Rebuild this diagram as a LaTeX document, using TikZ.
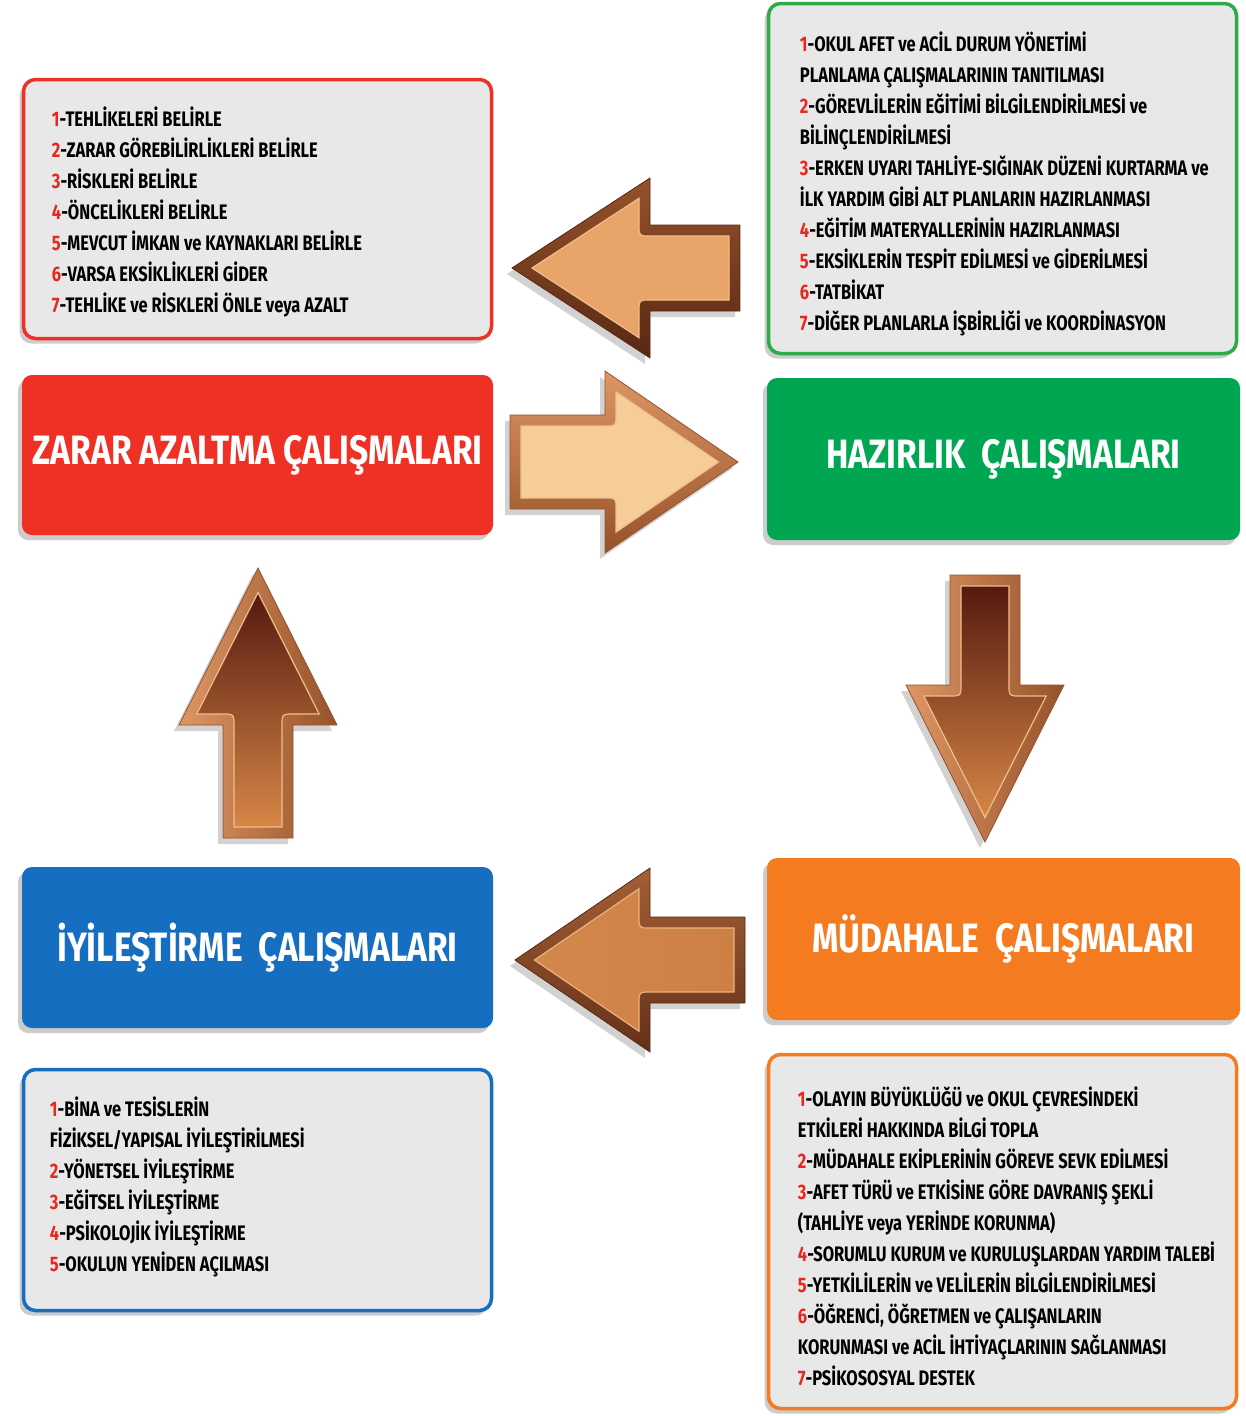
\documentclass[tikz,border=0pt]{standalone}
\usepackage{fontspec}
\setmainfont{Fira Sans}[FakeStretch=0.785]
\newfontfamily\titlefont{Fira Sans}[FakeStretch=0.82]
\usetikzlibrary{shadows,calc}
\definecolor{zred}{RGB}{238,49,36}
\definecolor{zgreen}{RGB}{0,166,81}
\definecolor{zblue}{RGB}{22,110,192}
\definecolor{zorange}{RGB}{244,123,32}
\definecolor{bgreen}{RGB}{46,170,74}
\definecolor{boxgray}{RGB}{232,232,232}
\definecolor{numred}{RGB}{230,40,30}
\definecolor{brD}{RGB}{88,40,20}
\definecolor{brM}{RGB}{150,82,42}
\definecolor{brL}{RGB}{222,150,100}
\definecolor{brHL}{RGB}{240,190,140}
\definecolor{tanA}{RGB}{232,164,105}
\definecolor{tanB}{RGB}{246,204,152}
\definecolor{choc}{RGB}{85,25,15}
\definecolor{ambr}{RGB}{215,135,70}
\definecolor{cop}{RGB}{205,128,68}
\newcommand\nr[1]{\textcolor{numred}{#1}}
% L H S E tipIn Hin outerstyle innerstyle
\newcommand\bronzearrow[8]{%
  \path[#7] (0,0) -- (#1,#2) -- (#1,#3) -- (#4,#3) -- (#4,-#3) -- (#1,-#3) -- (#1,-#2) -- cycle;
  \path[#8] (#5,0) -- (#1-11,#6) -- (#1-11,#3) .. controls (#1-11,#3-11) .. (#1,#3-11)
     -- (#4-11,#3-11) -- (#4-11,-#3+11) -- (#1,-#3+11) .. controls (#1-11,-#3+11) .. (#1-11,-#3)
     -- (#1-11,-#6) -- cycle;
}
\tikzset{
  shadowed/.style={drop shadow={shadow xshift=-4pt, shadow yshift=-5pt, opacity=.4}},
  titlebox/.style={rounded corners=10pt, minimum width=471pt, minimum height=160pt,
    text=white, font=\titlefont\fontsize{41}{44}\selectfont\bfseries, inner sep=0pt, shadowed},
  listbox/.style={rounded corners=12pt, line width=3.5pt, fill=boxgray,
    minimum width=468pt, inner sep=0pt, shadowed},
  listtext/.style={align=left, inner sep=0pt, anchor=west, text=black,
    font=\fontsize{21}{31}\selectfont\bfseries},
  arrowshadow/.style={drop shadow={shadow xshift=-5pt, shadow yshift=-6pt, opacity=.35}},
}
\begin{document}
\begin{tikzpicture}[x=1pt,y=-1pt]
\useasboundingbox (0,0) rectangle (1245,1416);
\fill[white] (0,0) rectangle (1245,1416);

% list boxes
\node[listbox, draw=zred, minimum height=259pt] (rl) at (257.5,209) {};
\node[listtext] (rlt) at ($(rl.west)+(30,3)$) {%
\nr{1}-TEHLİKELERİ BELİRLE\\
\nr{2}-ZARAR GÖREBİLİRLİKLERİ BELİRLE\\
\nr{3}-RİSKLERİ BELİRLE\\
\nr{4}-ÖNCELİKLERİ BELİRLE\\
\nr{5}-MEVCUT İMKAN ve KAYNAKLARI BELİRLE\\
\nr{6}-VARSA EKSİKLİKLERİ GİDER\\
\nr{7}-TEHLİKE ve RİSKLERİ ÖNLE veya AZALT};

\node[listbox, draw=bgreen, minimum height=350pt] (gl) at (1002.5,178.5) {};
\node[listtext] (glt) at ($(gl.west)+(33,5)$) {%
\nr{1}-OKUL AFET ve ACİL DURUM YÖNETİMİ\\
PLANLAMA ÇALIŞMALARININ TANITILMASI\\
\nr{2}-GÖREVLİLERİN EĞİTİMİ BİLGİLENDİRİLMESİ ve\\
BİLİNÇLENDİRİLMESİ\\
\nr{3}-ERKEN UYARI TAHLİYE-SIĞINAK DÜZENİ KURTARMA ve\\
İLK YARDIM GİBİ ALT PLANLARIN HAZIRLANMASI\\
\nr{4}-EĞİTİM MATERYALLERİNİN HAZIRLANMASI\\
\nr{5}-EKSİKLERİN TESPİT EDİLMESİ ve GİDERİLMESİ\\
\nr{6}-TATBİKAT\\
\nr{7}-DİĞER PLANLARLA İŞBİRLİĞİ ve  KOORDİNASYON};

\node[listbox, draw=zorange, minimum height=354pt] (ol) at (1002.5,1231.5) {};
\node[listtext] (olt) at ($(ol.west)+(31,5)$) {%
\nr{1}-OLAYIN BÜYÜKLÜĞÜ ve OKUL ÇEVRESİNDEKİ\\
ETKİLERİ HAKKINDA BİLGİ TOPLA\\
\nr{2}-MÜDAHALE EKİPLERİNİN GÖREVE SEVK EDİLMESİ\\
\nr{3}-AFET TÜRÜ ve ETKİSİNE GÖRE DAVRANIŞ ŞEKLİ\\
(TAHLİYE veya YERİNDE KORUNMA)\\
\nr{4}-SORUMLU KURUM ve KURULUŞLARDAN YARDIM TALEBİ\\
\nr{5}-YETKİLİLERİN ve VELİLERİN BİLGİLENDİRİLMESİ\\
\nr{6}-ÖĞRENCİ, ÖĞRETMEN ve ÇALIŞANLARIN\\
KORUNMASI ve ACİL İHTİYAÇLARININ SAĞLANMASI\\
\nr{7}-PSİKOSOSYAL DESTEK};

\node[listbox, draw=zblue, minimum height=241pt] (bl) at (257.5,1190) {};
\node[listtext] (blt) at ($(bl.west)+(28,-3)$) {%
\nr{1}-BİNA ve TESİSLERİN\\
FİZİKSEL/YAPISAL İYİLEŞTİRİLMESİ\\
\nr{2}-YÖNETSEL İYİLEŞTİRME\\
\nr{3}-EĞİTSEL İYİLEŞTİRME\\
\nr{4}-PSİKOLOJİK İYİLEŞTİRME\\
\nr{5}-OKULUN YENİDEN AÇILMASI};

% title boxes
\node[titlebox, fill=zred] (rt) at (257.5,455) {ZARAR AZALTMA ÇALIŞMALARI};
\node[titlebox, fill=zgreen, minimum width=473pt, minimum height=162pt] (gt) at (1003.5,459) {HAZIRLIK\ \ ÇALIŞMALARI};
\node[titlebox, fill=zblue, minimum height=161pt] (bt) at (257.5,947.5) {İYİLEŞTİRME\ \ ÇALIŞMALARI};
\node[titlebox, fill=zorange, minimum width=473pt, minimum height=162pt] (ot) at (1003.5,939) {MÜDAHALE\ \ ÇALIŞMALARI};

% arrows
% top-left (pointing left)
\begin{scope}[shift={(512,268)}, x={(1pt,0pt)}, y={(0pt,1pt)}]
\bronzearrow{138}{90}{43}{228}{20}{69.7}
  {arrowshadow, top color=brM, bottom color=brD, draw=brD, line width=.8pt}
  {fill=tanA, draw=brHL, line width=1.2pt}
\end{scope}
% right arrow
\begin{scope}[shift={(738,462)}, x={(-1pt,0pt)}, y={(0pt,1pt)}]
\bronzearrow{133}{91}{47}{228}{19.5}{70.1}
  {arrowshadow, top color=brL, bottom color=brM, draw=brM, line width=.8pt}
  {fill=tanB, draw=brHL, line width=1.2pt}
\end{scope}
% down arrow
\begin{scope}[shift={(985,842)}, x={(0pt,1pt)}, y={(1pt,0pt)}]
\bronzearrow{157}{79}{35}{267}{24.5}{61.2}
  {arrowshadow, left color=brL, right color=brM, draw=brM, line width=.8pt}
  {top color=choc, bottom color=ambr, draw=brHL, line width=1.2pt}
\end{scope}
% up arrow
\begin{scope}[shift={(258,568)}, x={(0pt,-1pt)}, y={(1pt,0pt)}]
\bronzearrow{157}{79}{35}{270}{24.5}{61.2}
  {arrowshadow, left color=brL, right color=brM, draw=brM, line width=.8pt}
  {top color=choc, bottom color=ambr, draw=brHL, line width=1.2pt}
\end{scope}
% bottom-left arrow
\begin{scope}[shift={(515,960)}, x={(1pt,0pt)}, y={(0pt,1pt)}]
\bronzearrow{135}{92}{43}{230}{19.5}{71.2}
  {arrowshadow, top color=brM!80!brL, bottom color=brD!80!brM, draw=brD, line width=.8pt}
  {left color=cop!80!tanA, right color=cop, draw=brHL!80!cop, line width=1.2pt}
\end{scope}
\end{tikzpicture}
\end{document}
